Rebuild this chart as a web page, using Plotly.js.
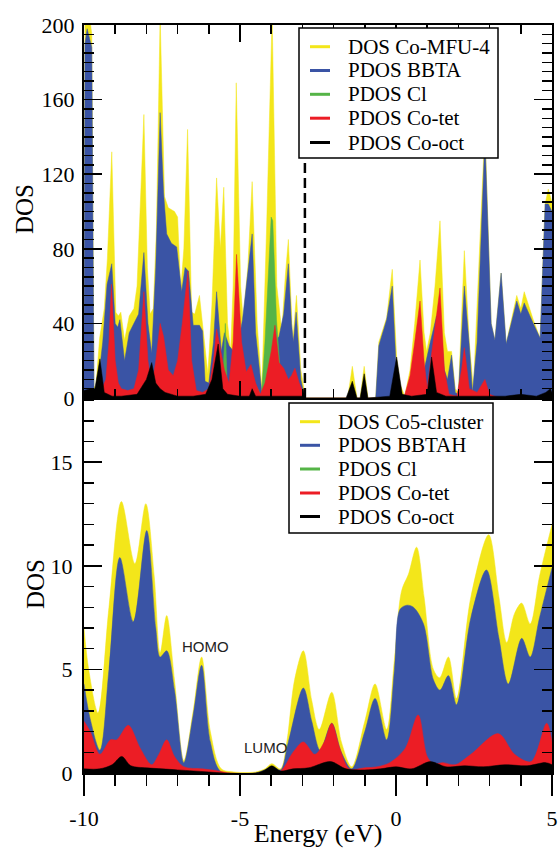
<!DOCTYPE html>
<html>
<head>
<meta charset="utf-8">
<script src="https://cdn.plot.ly/plotly-3.0.1.min.js"></script>
<style>html,body{margin:0;padding:0;background:#fff}#chart{width:559px;height:848px}</style>
</head>
<body>
<div id="chart"></div>
<script>
// ---------- Top panel: Co-MFU-4 ----------
const topTotalE = [-10,-9.97,-9.9,-9.75,-9.68,-9.62,-9.5,-9.35,-9.25,-9.11,-8.98,-8.9,-8.82,-8.7,-8.55,-8.4,-8.3,-8.08,-7.97,-7.88,-7.78,-7.68,-7.56,-7.42,-7.3,-7.1,-7.0,-6.9,-6.8,-6.68,-6.55,-6.45,-6.3,-6.15,-6.03,-5.9,-5.75,-5.63,-5.52,-5.4,-5.3,-5.22,-5.12,-4.98,-4.9,-4.75,-4.61,-4.45,-4.3,-4.15,-3.97,-3.82,-3.66,-3.55,-3.45,-3.31,-3.19,-3.05,-2.96,-2.9,-1.55,-1.4,-1.25,-1.15,-1.02,-0.9,-0.65,-0.55,-0.3,-0.12,0.02,0.12,0.28,0.45,0.6,0.77,0.9,0.98,1.1,1.25,1.41,1.55,1.65,1.78,1.9,2.0,2.19,2.35,2.48,2.85,3.05,3.17,3.37,3.53,3.87,4.0,4.11,4.4,4.62,4.78,4.88,5.0];
const topTotalDOS = [40,200,215,195,6,6,32,48,75,132,46,44,46,31,44,48,60,152,70,45,48,90,205,108,102,100,97,58,80,144,46,45,55,30,13,50,118,80,113,40,25,60,169,60,42,70,116,40,5,90,205,60,36,65,85,31,55,15,5,0,0,17,0,0,17,0,0,30,43,69,22,8,1,15,40,74,35,25,35,60,95,35,25,25,5,3,79,30,5,145,40,31,67,29,55,48,57,42,32,104,112,105];

const topLigandE = [-10,-9.97,-9.9,-9.75,-9.68,-9.62,-9.5,-9.4,-9.26,-9.11,-9.0,-8.92,-8.85,-8.7,-8.55,-8.4,-8.25,-8.08,-7.95,-7.83,-7.7,-7.56,-7.45,-7.35,-7.2,-7.03,-6.87,-6.76,-6.65,-6.5,-6.3,-6.2,-6.12,-6.0,-5.85,-5.75,-5.6,-5.5,-5.35,-5.2,-5.05,-4.92,-4.61,-4.5,-4.3,-4.2,-4.05,-3.9,-3.75,-3.6,-3.45,-3.35,-3.29,-3.2,-3.05,-2.96,-2.9,-0.65,-0.55,-0.3,-0.12,0.0,0.15,0.3,0.5,0.7,0.9,1.1,1.3,1.41,1.55,1.65,1.78,1.9,2.0,2.19,2.35,2.45,2.6,2.85,3.05,3.17,3.37,3.53,3.87,4.0,4.11,4.4,4.62,4.78,4.88,5.0];
const topLigandDOS = [30,190,198,188,5,5,15,30,61,72,40,38,42,20,35,40,45,78,40,24,70,153,110,88,83,81,57,70,68,39,39,36,9,8,30,57,25,35,28,25,30,42,88,35,3,10,25,30,33,45,72,40,30,46,10,3,0,0,28,42,60,18,3,0,3,5,15,30,44,44,15,10,23,3,2,60,28,3,30,140,40,31,67,29,52,45,51,40,32,104,104,100];

const topClE = [-10,-5.58,-5.47,-5.4,-4.7,-4.55,-4.4,-4.32,-4.2,-4.0,-3.95,-3.83,-3.7,-3.55,-3.4,5];
const topClDOS = [0,0,40,0,0,8,4,0,30,97,95,42,12,2,0,0];

const topCoTetE = [-10,-9.7,-9.5,-9.3,-9.2,-9.12,-9.0,-8.9,-8.8,-8.6,-8.4,-8.25,-8.08,-7.95,-7.83,-7.7,-7.56,-7.45,-7.3,-7.14,-7.0,-6.85,-6.67,-6.55,-6.4,-6.2,-6.0,-5.85,-5.75,-5.62,-5.5,-5.35,-5.22,-5.11,-4.95,-4.8,-4.65,-4.5,-4.35,-4.2,-4.0,-3.88,-3.75,-3.6,-3.45,-3.35,-3.24,-3.1,-2.96,-2.9,0.25,0.45,0.6,0.77,0.9,1.0,1.15,1.41,1.55,1.7,1.95,2.1,2.19,2.35,2.6,2.85,3.0,3.3,5.0];
const topCoTetDOS = [0,0,2,10,30,61,20,8,5,4,5,15,57,20,6,20,40,33,15,12,20,40,68,20,4,3,5,20,37,25,15,8,30,77,30,14,18,8,2,8,25,39,19,16,10,12,16,8,2,0,0,12,30,52,20,5,25,59,15,2,1,15,27,5,3,10,2,0,0];

const topCoOctE = [-10,-9.8,-9.65,-9.49,-9.35,-9.1,-8.8,-8.3,-8.0,-7.83,-7.7,-7.56,-7.4,-7.2,-7.0,-6.5,-6.1,-5.9,-5.7,-5.55,-5.4,-5.0,-4.7,-4.61,-4.5,-3.0,-2.95,-2.9,-1.6,-1.4,-1.25,-1.15,-1.02,-0.9,-0.2,0.02,0.2,0.5,1.0,1.14,1.3,1.6,2.5,3.5,4.0,4.5,4.8,4.95,5.0];
const topCoOctDOS = [4,5,5,21,3,1,1,2,10,19,8,5,3,2,1,1,2,10,29,5,2,1,1,5,1,1,5,0,0,9,0,0,13,0,1,22,2,1,2,22,3,1,1,1,2,1,3,5,3];

// ---------- Bottom panel: Co5 cluster ----------
const botTotalE = [-10,-9.85,-9.55,-9.2,-8.8,-8.37,-8.02,-7.75,-7.56,-7.35,-7.1,-6.8,-6.5,-6.23,-5.95,-5.6,-5.2,-4.5,-4.2,-3.98,-3.7,-3.5,-3.25,-2.97,-2.7,-2.46,-2.06,-1.75,-1.42,-1.0,-0.67,-0.3,-0.05,0.18,0.4,0.66,0.9,1.2,1.4,1.68,1.94,2.4,2.97,3.3,3.55,3.8,4.03,4.3,4.6,5.0];
const botTotalDOS = [7.0,5.0,2.9,8.0,13.1,10.1,13.0,9.5,5.8,7.6,4.5,0.6,3.0,5.6,2.0,0.2,0.05,0.05,0.2,0.45,0.2,1.5,4.5,5.9,3.5,2.1,3.9,1.5,0.3,2.5,4.3,2.1,5.5,8.8,9.6,10.9,8.5,5.0,4.6,5.6,3.6,8.5,11.5,8.5,6.3,7.7,8.2,7.2,9.5,12.0];

const botLigandE = [-10,-9.8,-9.49,-9.2,-8.85,-8.42,-7.99,-7.7,-7.56,-7.35,-7.1,-6.8,-6.5,-6.23,-5.95,-5.6,-4.5,-4.2,-3.98,-3.7,-3.45,-2.97,-2.7,-2.43,-2.06,-1.75,-1.42,-1.0,-0.67,-0.3,-0.05,0.13,0.35,0.56,0.88,1.2,1.41,1.68,1.94,2.4,2.9,3.3,3.6,4.03,4.3,4.6,5.0];
const botLigandDOS = [4.3,2.6,1.1,5.0,10.4,7.3,11.7,7.0,5.6,5.9,4.0,0.5,2.8,5.2,1.5,0.05,0.0,0.15,0.3,0.15,1.5,4.1,2.5,1.1,2.4,1.0,0.2,2.0,3.6,1.6,5.0,7.9,8.1,8.0,7.2,4.5,4.0,4.7,3.3,7.5,9.8,6.5,4.3,6.5,5.6,7.5,9.9];

const botClE = [-10,-1.6,-1.35,-1.1,5];
const botClDOS = [0,0,0.15,0,0];

const botCoTetE = [-10,-9.8,-9.49,-9.15,-8.95,-8.58,-8.2,-7.83,-7.6,-7.35,-7.1,-6.8,-6.2,-5.7,-5.3,-4.2,-3.7,-3.3,-2.97,-2.6,-2.3,-2.06,-1.8,-1.5,-1.0,-0.6,-0.2,0.3,0.71,1.0,1.2,1.5,1.9,2.4,3.28,3.8,4.33,4.83,5.0];
const botCoTetDOS = [2.5,2.0,0.9,1.6,1.6,2.3,1.2,0.4,0.9,1.6,0.8,0.3,0.2,0.1,0.0,0.0,0.1,1.0,1.5,0.9,1.5,2.4,1.2,0.2,0.25,0.3,0.5,1.2,2.8,0.8,0.45,0.5,0.4,0.9,1.9,0.9,0.55,2.4,1.5];

const botCoOctE = [-10,-9.5,-9.1,-8.79,-8.5,-8.0,-7.5,-7.0,-6.5,-6.0,-5.5,-4.5,-4.2,-3.98,-3.7,-3.3,-2.8,-2.1,-1.6,-1.0,-0.5,0.0,0.5,1.1,1.6,2.2,2.8,3.5,4.2,4.8,5.0];
const botCoOctDOS = [0.2,0.2,0.4,0.8,0.35,0.25,0.2,0.15,0.1,0.05,0.0,0.0,0.15,0.35,0.1,0.2,0.25,0.55,0.2,0.15,0.2,0.3,0.2,0.55,0.3,0.35,0.3,0.4,0.35,0.5,0.4];

// Labels and ticks
const topNames = ['DOS Co-MFU-4','PDOS BBTA','PDOS Cl','PDOS Co-tet','PDOS Co-oct'];
const botNames = ['DOS Co5-cluster','PDOS BBTAH','PDOS Cl','PDOS Co-tet','PDOS Co-oct'];
const energyTicks = [-10,-5,0,5];
const energyTickText = ['-10','-5','0','5'];
const fermiLevel = -2.92;
const homoLabel = {text:'HOMO', E:-6.12, D:6.1};
const lumoLabel = {text:'LUMO', E:-4.17, D:1.25};

const colors = ['#f3e61a','#3a54a5','#55b447','#ec1d25','#000000'];
const serif = 'Liberation Serif, Times New Roman, serif';

// pixel -> paper helpers (plot area: x 84..552, y 25..773)
const L = 84, R = 7, T = 25, B = 75, W = 559, H = 848;
const PW = W - L - R, PH = H - T - B;
const px = v => (v - L) / PW;
const py = v => (H - B - v) / PH;

const topSeries = [[topTotalE,topTotalDOS],[topLigandE,topLigandDOS],[topClE,topClDOS],[topCoTetE,topCoTetDOS],[topCoOctE,topCoOctDOS]];
const botSeries = [[botTotalE,botTotalDOS],[botLigandE,botLigandDOS],[botClE,botClDOS],[botCoTetE,botCoTetDOS],[botCoOctE,botCoOctDOS]];

const traces = [];
topSeries.forEach((s,i)=>{
  traces.push({type:'scatter', x:s[0], y:s[1], xaxis:'x', yaxis:'y', mode:'lines',
    line:{color:colors[i], width:0.5, shape:'linear'}, fill:'tozeroy', fillcolor:colors[i],
    name:topNames[i], showlegend:false, hoverinfo:'skip'});
});
botSeries.forEach((s,i)=>{
  traces.push({type:'scatter', x:s[0], y:s[1], xaxis:'x2', yaxis:'y2', mode:'lines',
    line:{color:colors[i], width:0.5, shape:'spline', smoothing:0.9}, fill:'tozeroy', fillcolor:colors[i],
    name:botNames[i], showlegend:false, hoverinfo:'skip'});
});

const split = 0.5013;
const tickFont = {family:serif, size:22, color:'#000'};
const axCommon = {showline:true, linecolor:'#000', linewidth:2, showgrid:false, zeroline:false,
  tickcolor:'#000', tickwidth:1.5};

// Legend boxes drawn as shapes + text annotations
const shapes = [{type:'line', xref:'x', yref:'y domain', x0:fermiLevel, x1:fermiLevel, y0:0, y1:1,
    line:{color:'#000', width:2.5, dash:'10px,5px'}}];
const annotations = [];
function addLegend(names, box, sampleX0, sampleX1, textX, rows){
  shapes.push({type:'rect', xref:'paper', yref:'paper', x0:px(box[0]), x1:px(box[1]), y0:py(box[2]), y1:py(box[3]),
    fillcolor:'#fff', line:{color:'#000', width:1.5}, layer:'above'});
  names.forEach((n,i)=>{
    shapes.push({type:'line', xref:'paper', yref:'paper', x0:px(sampleX0), x1:px(sampleX1), y0:py(rows[i]), y1:py(rows[i]),
      line:{color:colors[i], width:3}, layer:'above'});
    annotations.push({text:n, xref:'paper', yref:'paper', x:px(textX), y:py(rows[i]), xanchor:'left', yanchor:'middle',
      showarrow:false, font:{family:serif, size:21, color:'#000'}});
  });
}
addLegend(topNames, [299,498,28,158], 310, 330, 346, [46.7,70.5,94.3,118.2,142.5]);
addLegend(botNames, [289,493,403,533], 300, 320, 336, [421.7,445.3,469,493,516.5]);

annotations.push(
  {text:'DOS', xref:'paper', yref:'paper', x:px(24), y:py(209), textangle:-90, xanchor:'center', yanchor:'middle',
   showarrow:false, font:{family:serif, size:25, color:'#000'}},
  {text:'DOS', xref:'paper', yref:'paper', x:px(35), y:py(584), textangle:-90, xanchor:'center', yanchor:'middle',
   showarrow:false, font:{family:serif, size:25, color:'#000'}},
  {text:homoLabel.text, xref:'x2', yref:'y2', x:homoLabel.E, y:homoLabel.D, showarrow:false,
   font:{family:'Liberation Sans, Arial, sans-serif', size:15, color:'#222'}},
  {text:lumoLabel.text, xref:'x2', yref:'y2', x:lumoLabel.E, y:lumoLabel.D, showarrow:false,
   font:{family:'Liberation Sans, Arial, sans-serif', size:15, color:'#222'}}
);

const layout = {
  width:W, height:H,
  margin:{l:L, r:R, t:T, b:B},
  paper_bgcolor:'#fff', plot_bgcolor:'#fff',
  showlegend:false,
  xaxis: Object.assign({}, axCommon, {domain:[0,1], anchor:'y', range:[-10,5], tick0:0, dtick:5,
    ticks:'inside', ticklen:17, mirror:'ticks', showticklabels:false,
    minor:{dtick:1, ticks:'inside', ticklen:9, tickcolor:'#000', tickwidth:1.5}}),
  yaxis: Object.assign({}, axCommon, {domain:[split,1], anchor:'x', range:[0,200], tick0:0, dtick:40,
    ticks:'inside', ticklen:18, mirror:'ticks', tickfont:tickFont, ticklabelstandoff:3,
    minor:{dtick:5, ticks:'inside', ticklen:10, tickcolor:'#000', tickwidth:1.5}}),
  xaxis2: Object.assign({}, axCommon, {domain:[0,1], anchor:'y2', range:[-10,5],
    tickmode:'array', tickvals:energyTicks, ticktext:energyTickText,
    ticks:'outside', ticklen:21, mirror:false, tickfont:tickFont, ticklabelstandoff:4,
    minor:{dtick:1, tick0:0, ticks:'outside', ticklen:11, tickcolor:'#000', tickwidth:1.5},
    title:{text:'Energy (eV)', font:{family:serif, size:26, color:'#000'}, standoff:6}}),
  xaxis3: Object.assign({}, axCommon, {overlaying:'x2', anchor:'y2', side:'top', range:[-10,5], tick0:0, dtick:5,
    ticks:'inside', ticklen:18, showticklabels:false,
    minor:{dtick:1, ticks:'inside', ticklen:10, tickcolor:'#000', tickwidth:1.5}}),
  yaxis2: Object.assign({}, axCommon, {domain:[0,split], anchor:'x2', range:[0,18.1], tick0:0, dtick:5,
    ticks:'inside', ticklen:18, mirror:'ticks', tickfont:tickFont, ticklabelstandoff:5,
    minor:{dtick:1, ticks:'inside', ticklen:10, tickcolor:'#000', tickwidth:1.5}}),
  shapes: shapes,
  annotations: annotations
};

Plotly.newPlot('chart', traces, layout, {staticPlot:true, displayModeBar:false});
</script>
</body>
</html>
